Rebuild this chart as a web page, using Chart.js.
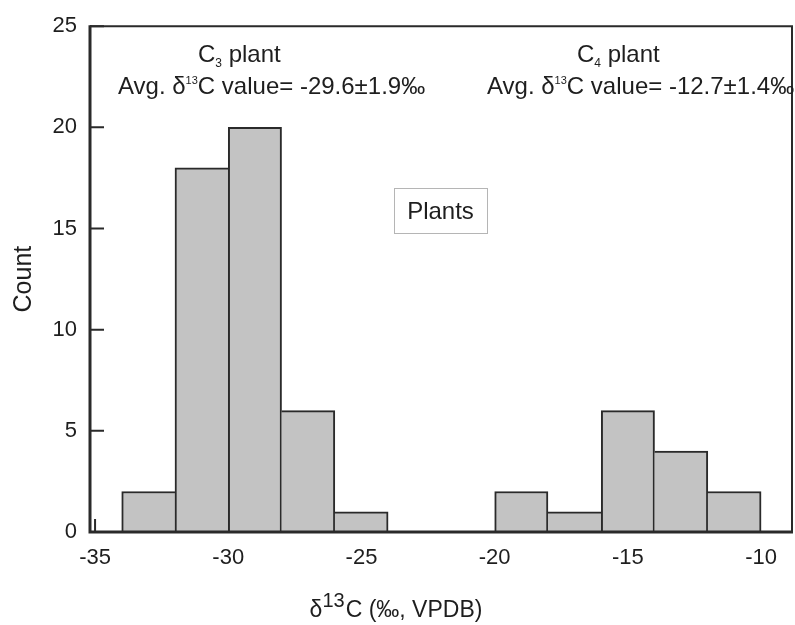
<!DOCTYPE html>
<html>
<head>
<meta charset="utf-8">
<script src="https://cdn.jsdelivr.net/npm/chart.js@4/dist/chart.umd.min.js"></script>
<style>
html,body{margin:0;padding:0;background:#fff;}
canvas{display:block;}
</style>
</head>
<body>
<canvas id="c" width="795" height="625"></canvas>
<script>
// ---- data ----
const binCenters = [-33, -31, -29, -27, -25, -19, -17, -15, -13, -11];
const counts     = [2, 18, 20, 6, 1, 2, 1, 6, 4, 2];
const binWidth   = 2;
const xTicks = [-35, -30, -25, -20, -15, -10];
const yTicks = [0, 5, 10, 15, 20, 25];
const xRange = [-35.19, -8.84];
const yRange = [0, 25];

const FONT = '"Liberation Sans", Arial, Helvetica, sans-serif';
const TEXT = '#1e1e1e';
const LINE = '#2a2a2a';

function adjacent(i, j) {
  return Math.abs(Math.abs(binCenters[j] - binCenters[i]) - binWidth) < 1e-9;
}
function coveredByBar(v) {
  return binCenters.some(c => v >= c - binWidth / 2 - 1e-9 && v <= c + binWidth / 2 + 1e-9);
}

function drawRich(ctx, x, y, parts, align) {
  let total = 0;
  parts.forEach(p => { ctx.font = p.s + 'px ' + FONT; total += ctx.measureText(p.t).width + (p.gap || 0); });
  if (align === 'center') x -= total / 2;
  ctx.textAlign = 'left';
  ctx.textBaseline = 'alphabetic';
  parts.forEach(p => {
    ctx.font = p.s + 'px ' + FONT;
    ctx.fillText(p.t, x, y + (p.dy || 0));
    x += ctx.measureText(p.t).width + (p.gap || 0);
  });
}

const decor = {
  id: 'decor',
  beforeDatasetsDraw(chart) {
    const ctx = chart.ctx, a = chart.chartArea;
    const xs = chart.scales.x, ys = chart.scales.y;
    ctx.save();
    ctx.strokeStyle = LINE;
    ctx.lineWidth = 2;
    ctx.beginPath();
    xTicks.forEach(v => {
      if (coveredByBar(v)) return;
      const px = xs.getPixelForValue(v);
      ctx.moveTo(px, a.bottom); ctx.lineTo(px, a.bottom - 13);
    });
    yTicks.forEach(v => {
      const py = ys.getPixelForValue(v);
      ctx.moveTo(a.left, py); ctx.lineTo(a.left + 14, py);
    });
    ctx.stroke();
    ctx.restore();
  },
  afterDatasetsDraw(chart) {
    const ctx = chart.ctx, a = chart.chartArea;
    ctx.save();
    // frame
    ctx.strokeStyle = LINE;
    ctx.lineWidth = 2;
    ctx.beginPath();
    ctx.moveTo(a.left, a.top); ctx.lineTo(a.right, a.top); ctx.lineTo(a.right, a.bottom);
    ctx.stroke();
    ctx.lineWidth = 3;
    ctx.beginPath();
    ctx.moveTo(a.left, a.top - 1); ctx.lineTo(a.left, a.bottom); ctx.lineTo(a.right + 1, a.bottom);
    ctx.stroke();

    // annotations
    ctx.fillStyle = TEXT;
    drawRich(ctx, 198, 62, [{t:'C', s:24}, {t:'3', s:12, dy:5}, {t:' plant', s:24}]);
    drawRich(ctx, 118, 94, [{t:'Avg. ', s:24}, {t:'δ', s:24}, {t:'13', s:11, dy:-10}, {t:'C value= -29.6±1.9‰', s:24}]);
    drawRich(ctx, 577, 62, [{t:'C', s:24}, {t:'4', s:12, dy:5}, {t:' plant', s:24}]);
    drawRich(ctx, 487, 94, [{t:'Avg. ', s:24}, {t:'δ', s:24}, {t:'13', s:11, dy:-10}, {t:'C value= -12.7±1.4‰', s:24}]);

    // Plants box
    ctx.fillStyle = '#fff';
    ctx.fillRect(394, 188, 93, 45);
    ctx.strokeStyle = '#b5b5b5';
    ctx.lineWidth = 1;
    ctx.strokeRect(394.5, 188.5, 93, 45);
    ctx.fillStyle = TEXT;
    ctx.font = '24px ' + FONT;
    ctx.textAlign = 'center';
    ctx.textBaseline = 'alphabetic';
    ctx.fillText('Plants', 440.5, 219);

    // x axis title
    drawRich(ctx, 396, 617, [{t:'δ', s:23}, {t:'13', s:20, dy:-10, gap:1}, {t:'C (‰, VPDB)', s:23}], 'center');
    ctx.restore();
  }
};

new Chart(document.getElementById('c'), {
  type: 'bar',
  data: {
    datasets: [{
      data: binCenters.map((x, i) => ({x: x, y: counts[i]})),
      backgroundColor: '#c3c3c3',
      borderColor: LINE,
      borderSkipped: false,
      borderWidth: (ctx) => {
        const i = ctx.dataIndex, w = 2, c = counts[i];
        let left = w, right = w;
        if (i > 0 && adjacent(i - 1, i) && counts[i - 1] >= c) left = 0;
        if (i < counts.length - 1 && adjacent(i, i + 1) && counts[i + 1] > c) right = 0;
        return {top: w, left: left, right: right, bottom: 0};
      },
      barPercentage: 1,
      categoryPercentage: 1,
      grouped: false
    }]
  },
  options: {
    responsive: false,
    animation: false,
    devicePixelRatio: 1,
    layout: {padding: {top: 26, right: 3, left: 0, bottom: 0}},
    plugins: {legend: {display: false}, tooltip: {enabled: false}},
    scales: {
      x: {
        type: 'linear',
        offset: false,
        min: xRange[0], max: xRange[1],
        afterBuildTicks: s => { s.ticks = xTicks.map(v => ({value: v})); },
        afterFit: s => { s.height = 93; },
        grid: {display: false, drawTicks: false},
        border: {display: false},
        ticks: {
          padding: 13,
          color: TEXT,
          font: {family: FONT, size: 22},
          maxRotation: 0,
          autoSkip: false,
          callback: v => String(v)
        }
      },
      y: {
        type: 'linear',
        min: yRange[0], max: yRange[1],
        afterBuildTicks: s => { s.ticks = yTicks.map(v => ({value: v})); },
        afterFit: s => { s.width = 90; },
        grid: {display: false, drawTicks: false},
        border: {display: false},
        ticks: {
          padding: 13,
          color: TEXT,
          font: {family: FONT, size: 22},
          callback: v => String(v)
        },
        title: {
          display: true,
          text: 'Count',
          color: TEXT,
          font: {family: FONT, size: 25},
          padding: {top: 9, bottom: 0}
        }
      }
    }
  },
  plugins: [decor]
});
</script>
</body>
</html>
